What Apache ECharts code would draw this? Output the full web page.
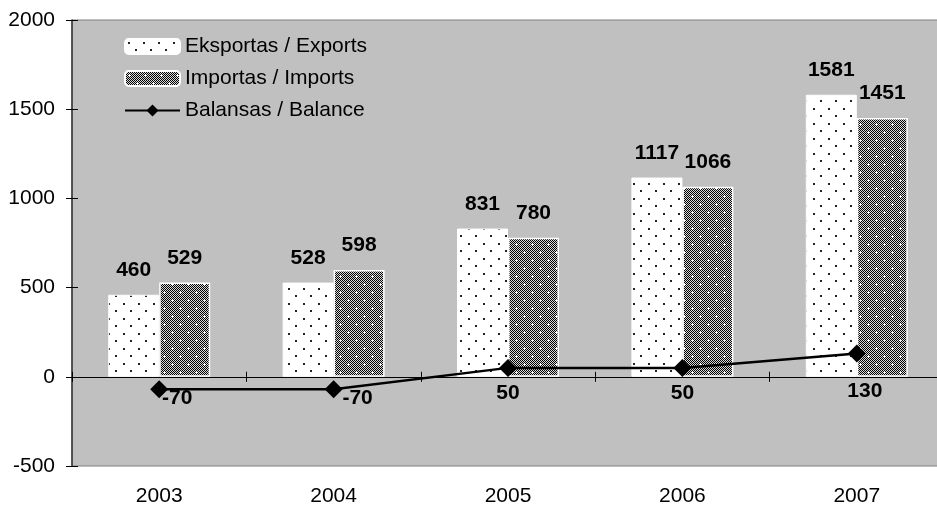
<!DOCTYPE html>
<html>
<head>
<meta charset="utf-8">
<script src="https://cdn.jsdelivr.net/npm/echarts@6/dist/echarts.min.js"></script>
<style>
  html, body { margin: 0; padding: 0; background: #ffffff; }
  #chart { width: 937px; height: 507px; }
</style>
</head>
<body>
<div id="chart"></div>
<script>
// Trade figures by year
const years = ['2003', '2004', '2005', '2006', '2007'];
const exportsValues = [460, 528, 831, 1117, 1581];
const importsValues = [529, 598, 780, 1066, 1451];
const balanceValues = [-70, -70, 50, 50, 130];

const seriesNames = ['Eksportas / Exports', 'Importas / Imports', 'Balansas / Balance'];

// Value axis range
const yMin = -500;
const yMax = 2000;
const yStep = 500;

// Where each balance label sits relative to its marker
const balanceLabelShift = [[18, 9], [24, 9], [0, 25], [0, 25], [8, 38]];

const FONT = 'Arial, "Liberation Sans", sans-serif';

// White fill with a staggered grid of small dots
function dotPattern() {
  const c = document.createElement('canvas');
  c.width = 15; c.height = 15;
  const g = c.getContext('2d');
  g.fillStyle = '#ffffff';
  g.fillRect(0, 0, 15, 15);
  g.fillStyle = '#222222';
  g.fillRect(3, 3, 2, 2);
  g.fillRect(10, 10, 2, 2);
  return c;
}

// Fine dark checkerboard with small white crosses
function meshPattern() {
  const n = 16;
  const c = document.createElement('canvas');
  c.width = n; c.height = n;
  const g = c.getContext('2d');
  for (let y = 0; y < n; y++) {
    for (let x = 0; x < n; x++) {
      g.fillStyle = ((x + y) % 2 === 0) ? '#000000' : '#d8d8d8';
      g.fillRect(x, y, 1, 1);
    }
  }
  g.fillStyle = '#ffffff';
  [[4, 4], [12, 12]].forEach(([cx, cy]) => {
    g.fillRect(cx - 1, cy, 3, 1);
    g.fillRect(cx, cy - 1, 1, 3);
  });
  return c;
}

const dotFill = { image: dotPattern(), repeat: 'repeat' };
const meshFill = { image: meshPattern(), repeat: 'repeat' };

const barLabel = {
  show: true,
  position: 'top',
  distance: 14,
  color: '#000',
  fontFamily: FONT,
  fontSize: 21,
  fontWeight: 'bold'
};

const chart = echarts.init(document.getElementById('chart'), null, { renderer: 'canvas' });

chart.setOption({
  animation: false,
  backgroundColor: '#ffffff',
  grid: {
    left: 72, right: -7, top: 20, bottom: 41,
    outerBoundsMode: 'none',
    containLabel: false,
    show: true,
    backgroundColor: '#c0c0c0',
    borderColor: '#808080',
    borderWidth: 1
  },
  legend: {
    orient: 'vertical',
    left: 119,
    top: 31,
    itemWidth: 55,
    itemHeight: 15,
    itemGap: 11,
    selectedMode: false,
    textStyle: { fontFamily: FONT, fontSize: 21, color: '#000' },
    data: seriesNames
  },
  xAxis: [
    {
      type: 'category', data: years, position: 'bottom',
      axisLine: { onZero: true, lineStyle: { color: '#000', width: 1 } },
      axisTick: { show: true, length: 5, lineStyle: { color: '#000' } },
      axisLabel: { show: false }
    },
    {
      type: 'category', data: years, position: 'bottom',
      axisLine: { onZero: true, lineStyle: { color: '#000', width: 1 } },
      axisTick: { show: true, inside: true, length: 5, lineStyle: { color: '#000' } },
      axisLabel: { show: false }
    },
    {
      type: 'category', data: years, position: 'bottom',
      axisLine: { show: false, onZero: false },
      axisTick: { show: false },
      axisLabel: { fontFamily: FONT, fontSize: 21, color: '#000', margin: 20 }
    }
  ],
  yAxis: [
    {
      type: 'value', min: yMin, max: yMax, interval: yStep, position: 'left',
      axisLine: { show: true, lineStyle: { color: '#333', width: 1.5 } },
      axisTick: { show: true, length: 6, lineStyle: { color: '#000' } },
      axisLabel: {
        fontFamily: FONT, fontSize: 21, color: '#000', margin: 17,
        formatter: (v) => String(v)
      },
      splitLine: { show: false }
    },
    {
      type: 'value', min: yMin, max: yMax, interval: yStep, position: 'left',
      axisLine: { show: false },
      axisTick: { show: true, inside: true, length: 6, lineStyle: { color: '#000' } },
      axisLabel: { show: false },
      splitLine: { show: false }
    }
  ],
  series: [
    {
      name: seriesNames[0], type: 'bar', data: exportsValues,
      barWidth: 51, barGap: '0%',
      itemStyle: { color: dotFill, borderColor: '#ffffff', borderWidth: 1 },
      label: barLabel, z: 2
    },
    {
      name: seriesNames[1], type: 'bar', data: importsValues,
      barWidth: 51, barGap: '0%',
      itemStyle: { color: meshFill, borderColor: '#ffffff', borderWidth: 1.5 },
      label: barLabel, z: 2
    },
    {
      name: seriesNames[2], type: 'line',
      data: balanceValues.map((v, i) => ({
        value: v,
        label: { offset: balanceLabelShift[i] }
      })),
      symbol: 'diamond', symbolSize: 18,
      lineStyle: { color: '#000', width: 2.5 },
      itemStyle: { color: '#000' },
      label: {
        show: true, position: 'inside',
        color: '#000', fontFamily: FONT, fontSize: 21, fontWeight: 'bold'
      },
      z: 5
    }
  ]
});
</script>
</body>
</html>
